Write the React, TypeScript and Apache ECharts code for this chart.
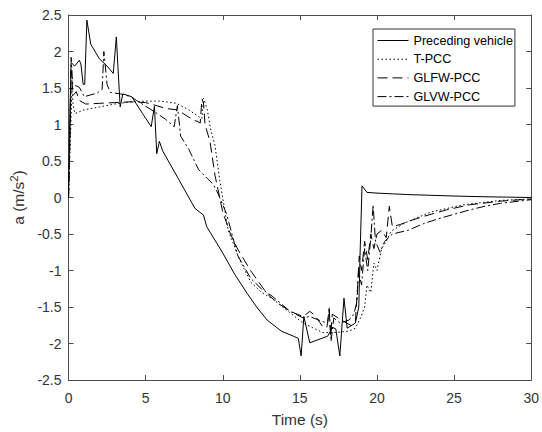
import React, { useEffect, useRef } from "react";
import * as echarts from "echarts";

const seriesNames = ["Preceding vehicle", "T-PCC", "GLFW-PCC", "GLVW-PCC"];

const xMin = 0;
const xMax = 30;
const xInterval = 5;
const yMin = -2.5;
const yMax = 2.5;
const yInterval = 0.5;

const precedingData: [number, number][] = [
  [0, 0], [0.08, 1.1], [0.17, 1.85], [0.4, 1.8], [0.7, 1.88], [0.8, 1.83], [0.95, 1.55], [1.05, 1.55],
  [1.19, 2.43], [1.44, 2.1], [2.0, 1.9], [2.5, 1.8], [2.9, 1.7], [3.1, 2.2], [3.2, 1.8], [3.35, 1.24],
  [3.52, 1.42], [4.1, 1.38], [4.8, 1.15], [5.36, 0.97], [5.57, 1.25], [5.72, 0.6], [5.89, 0.77],
  [6.1, 0.64], [7.06, 0.28], [8.2, -0.15], [8.75, -0.24], [8.96, -0.4], [10.0, -0.76], [10.77, -1.05],
  [11.6, -1.32], [12.2, -1.5], [12.88, -1.68], [13.8, -1.83], [14.58, -1.9], [14.9, -1.93],
  [15.08, -2.17], [15.26, -1.63], [15.64, -1.99], [16.8, -1.9], [17.12, -1.78], [17.33, -1.8],
  [17.59, -2.17], [17.86, -1.38], [18.07, -1.79], [18.6, -1.72], [18.82, -1.5], [18.9, -0.8],
  [19.03, 0.16], [19.35, 0.07], [20, 0.06], [21, 0.05], [22, 0.04], [23.5, 0.03], [25, 0.02],
  [27, 0.01], [30, 0.0],
];

const tpccData: [number, number][] = [
  [0, 0], [0.15, 1.0], [0.22, 1.5], [0.3, 1.25], [0.42, 1.15], [1.0, 1.2], [2.0, 1.24], [3.0, 1.28],
  [4.0, 1.31], [5.0, 1.32], [6.0, 1.32], [7.0, 1.29], [7.8, 1.2], [8.5, 1.1], [8.65, 1.08],
  [8.75, 1.36], [8.85, 1.3], [9.0, 1.2], [9.2, 0.95], [9.49, 0.72], [9.81, 0.23], [10.34, -0.44],
  [11.08, -0.85], [11.82, -1.16], [12.46, -1.29], [13.3, -1.4], [14.0, -1.52], [14.79, -1.65],
  [15.21, -1.72], [15.8, -1.78], [16.48, -1.85], [17.33, -1.85], [18.18, -1.83], [18.6, -1.79],
  [18.93, -1.65], [19.2, -1.5], [19.35, -1.2], [19.6, -1.3], [19.8, -0.9], [20.0, -1.0],
  [20.3, -0.7], [20.6, -0.6], [20.93, -0.46], [21.79, -0.35], [23.48, -0.2], [25.6, -0.1],
  [28, -0.04], [30, -0.02],
];

const glfwData: [number, number][] = [
  [0, 0], [0.12, 1.0], [0.17, 1.73], [0.3, 1.4], [0.5, 1.45], [0.7, 1.33], [1.12, 1.28], [2, 1.29],
  [3, 1.3], [4, 1.31], [5, 1.3], [5.68, 1.26], [6.3, 1.22], [7.06, 1.2], [7.8, 1.1], [8.54, 1.02],
  [8.65, 1.35], [8.75, 1.3], [8.85, 1.0], [9.17, 0.77], [9.5, 0.3], [10.0, -0.2], [10.5, -0.5],
  [11.0, -0.72], [11.8, -1.0], [12.88, -1.32], [13.6, -1.45], [14.37, -1.56], [15.21, -1.63],
  [15.64, -1.56], [15.96, -1.61], [16.48, -1.77], [16.75, -1.78], [16.9, -1.56], [17.0, -1.9],
  [17.1, -1.6], [17.86, -1.7], [18.3, -1.75], [18.6, -1.7], [18.75, -1.2], [18.85, -0.8],
  [19.0, -1.0], [19.2, -0.6], [19.4, -0.85], [19.6, -0.5], [19.8, -0.7], [20.0, -0.5],
  [20.3, -0.45], [20.6, -0.55], [20.8, -0.12], [21.0, -0.4], [21.5, -0.37], [22, -0.33],
  [23, -0.26], [24.5, -0.17], [26, -0.1], [28, -0.05], [30, -0.02],
];

const glvwData: [number, number][] = [
  [0, 0], [0.1, 1.0], [0.17, 1.92], [0.27, 1.55], [0.7, 1.51], [1.02, 1.38], [1.33, 1.4],
  [1.86, 1.43], [2.18, 1.48], [2.29, 2.0], [2.5, 1.55], [2.71, 1.44], [3.35, 1.42], [4.09, 1.38],
  [4.4, 1.33], [5.0, 1.25], [5.68, 1.16], [6.3, 1.07], [6.85, 0.97], [7.06, 1.26], [7.27, 0.84],
  [7.8, 0.66], [8.44, 0.38], [9.0, 0.26], [9.39, 0.18], [9.7, 0.05], [10.24, -0.22], [10.98, -0.8],
  [11.82, -1.11], [12.5, -1.25], [13.2, -1.35], [14.37, -1.56], [15.21, -1.65], [15.64, -1.63],
  [16.48, -1.7], [16.8, -1.72], [16.9, -1.5], [17.02, -1.97], [17.2, -1.65], [17.6, -1.72],
  [18.18, -1.68], [18.5, -1.6], [18.7, -1.43], [18.8, -1.0], [19.0, -1.2], [19.2, -0.7],
  [19.4, -1.0], [19.6, -0.55], [19.75, -0.1], [19.9, -0.6], [20.2, -0.75], [20.5, -0.6],
  [21.0, -0.5], [22, -0.45], [23, -0.36], [24, -0.29], [25, -0.23], [26, -0.17], [27, -0.12],
  [28, -0.08], [30, -0.03],
];

const FONT = "Liberation Sans, Arial, Helvetica, sans-serif";
const AXIS_COLOR = "#4d4d4d";
const TEXT_COLOR = "#333333";

export default function App() {
  const ref = useRef<HTMLDivElement>(null);

  useEffect(() => {
    if (!ref.current) return;
    const chart = echarts.init(ref.current, undefined, { renderer: "svg" });

    const axisCommon = {
      axisLine: { show: true, onZero: false, lineStyle: { color: AXIS_COLOR, width: 1 } },
      axisTick: { show: true, inside: true, length: 5, lineStyle: { color: AXIS_COLOR } },
      splitLine: { show: false },
    };

    const mkLine = (name: string, data: [number, number][], type: any) => ({
      name,
      type: "line",
      data,
      symbol: "none",
      showSymbol: false,
      xAxisIndex: 0,
      yAxisIndex: 0,
      lineStyle: { color: "#000000", width: 1, type },
      itemStyle: { color: "#000000" },
      z: 3,
    });

    chart.setOption({
      animation: false,
      backgroundColor: "#ffffff",
      textStyle: { fontFamily: FONT },
      grid: { left: 64, right: 6, top: 15, bottom: 46, containLabel: false },
      legend: {
        show: true,
        orient: "vertical",
        left: 373,
        top: 29,
        padding: [5, 2, 3, 4],
        itemWidth: 31,
        itemHeight: 12,
        itemGap: 5.7,
        backgroundColor: "#ffffff",
        borderColor: "#333333",
        borderWidth: 1,
        borderRadius: 0,
        itemStyle: { opacity: 0, borderWidth: 0 },
        lineStyle: { width: 1 },
        textStyle: { fontFamily: FONT, fontSize: 12.6, color: "#000000", padding: [0, 0, 0, 0], lineHeight: 12 },
        data: seriesNames,
      },
      xAxis: [
        {
          type: "value",
          min: xMin,
          max: xMax,
          interval: xInterval,
          position: "bottom",
          name: "Time (s)",
          nameLocation: "middle",
          nameGap: 31,
          nameTextStyle: { fontFamily: FONT, fontSize: 15.5, color: TEXT_COLOR },
          axisLabel: { show: true, margin: 11, fontFamily: FONT, fontSize: 14, color: TEXT_COLOR },
          ...axisCommon,
        },
        {
          type: "value",
          min: xMin,
          max: xMax,
          interval: xInterval,
          position: "top",
          axisLabel: { show: false },
          ...axisCommon,
        },
      ],
      yAxis: [
        {
          type: "value",
          min: yMin,
          max: yMax,
          interval: yInterval,
          position: "left",
          name: "a (m/s{sup|2})",
          nameLocation: "middle",
          nameGap: 34,
          nameTextStyle: {
            fontFamily: FONT,
            fontSize: 15.5,
            color: TEXT_COLOR,
            rich: { sup: { fontFamily: FONT, fontSize: 11.5, color: TEXT_COLOR, verticalAlign: "top", padding: [0, 0, 9, 0] } },
          },
          axisLabel: { show: true, margin: 7, fontFamily: FONT, fontSize: 14, color: TEXT_COLOR },
          ...axisCommon,
        },
        {
          type: "value",
          min: yMin,
          max: yMax,
          interval: yInterval,
          position: "right",
          axisLabel: { show: false },
          ...axisCommon,
        },
      ],
      series: [
        mkLine(seriesNames[0], precedingData, "solid"),
        mkLine(seriesNames[1], tpccData, [1.5, 2.5]),
        mkLine(seriesNames[2], glfwData, [10, 5]),
        mkLine(seriesNames[3], glvwData, [9, 3, 2, 3]),
      ],
    });

    return () => chart.dispose();
  }, []);

  return (
    <div
      ref={ref}
      style={{ position: "fixed", left: 0, top: 0, width: 542, height: 432, background: "#fff" }}
    />
  );
}
